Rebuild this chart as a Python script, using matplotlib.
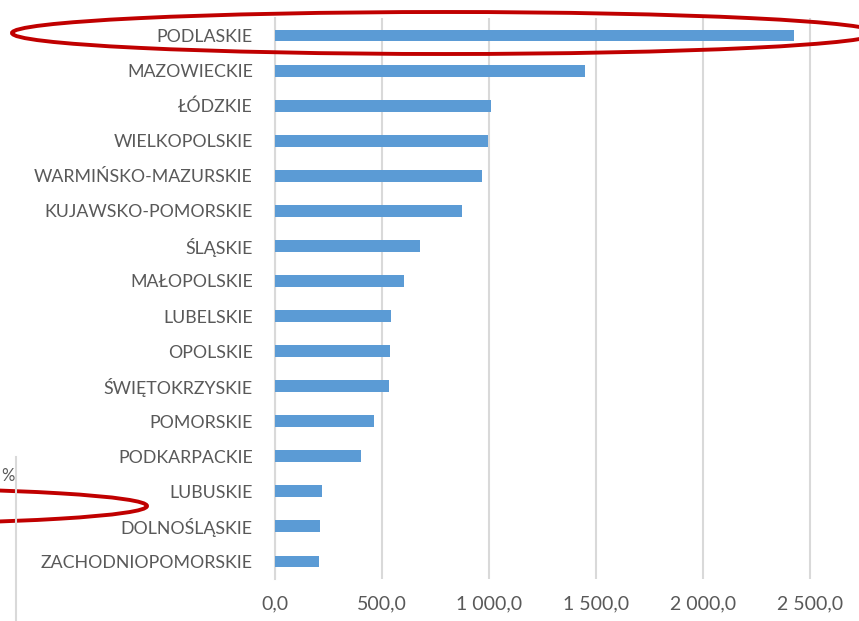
import matplotlib
matplotlib.use('Agg')
import matplotlib.pyplot as plt
from matplotlib.patches import Ellipse
from matplotlib.lines import Line2D

# voivodeships, top to bottom
regions = ['PODLASKIE', 'MAZOWIECKIE', 'ŁÓDZKIE', 'WIELKOPOLSKIE',
           'WARMIŃSKO-MAZURSKIE', 'KUJAWSKO-POMORSKIE', 'ŚLĄSKIE',
           'MAŁOPOLSKIE', 'LUBELSKIE', 'OPOLSKIE', 'ŚWIĘTOKRZYSKIE',
           'POMORSKIE', 'PODKARPACKIE', 'LUBUSKIE', 'DOLNOŚLĄSKIE',
           'ZACHODNIOPOMORSKIE']
values = [2425, 1447, 1008, 997, 966, 874, 676, 604, 544, 536, 534,
          463, 400, 218, 210, 206]
x_ticks = [0, 500, 1000, 1500, 2000, 2500]
x_labels = ['0,0', '500,0', '1 000,0', '1 500,0', '2 000,0', '2 500,0']

W, H = 859, 621
fig = plt.figure(figsize=(W / 100, H / 100), dpi=100)
plt.rcParams['font.family'] = ['Lato', 'DejaVu Sans']

ax = fig.add_axes([275 / W, 1 - 579 / H, (W - 275) / W, (579 - 18) / H])
ypos = list(range(len(regions)))
ax.barh(ypos, values, height=0.34, color='#5B9BD5', zorder=3)
ax.set_ylim(len(regions) - 0.5, -0.5)
ax.set_xlim(0, 2729)
ax.set_yticks(ypos)
ax.set_yticklabels(regions, fontsize=12.8, color='#595959')
ax.set_xticks(x_ticks)
ax.set_xticklabels(x_labels, fontsize=14, color='#595959')
ax.tick_params(axis='y', length=0, pad=16)
ax.tick_params(axis='x', length=0, pad=12)
ax.grid(axis='x', color='#D9D9D9', linewidth=1.5, zorder=0)
for s in ['top', 'right', 'bottom']:
    ax.spines[s].set_visible(False)
ax.spines['left'].set_color('#D9D9D9')
ax.spines['left'].set_linewidth(1.5)

# red highlight ellipses
e1 = Ellipse((445 / W, 1 - 33 / H), 866 / W, 42 / H, fill=False,
             edgecolor='#C00000', linewidth=2.8, transform=fig.transFigure)
fig.add_artist(e1)
e2 = Ellipse((-153 / W, 1 - 506 / H), 600 / W, 36 / H, fill=False,
             edgecolor='#C00000', linewidth=2.8, transform=fig.transFigure)
fig.add_artist(e2)

# fragment of neighbouring chart
fig.add_artist(Line2D([16 / W, 16 / W], [0, 1 - 457 / H], color='#D9D9D9',
                      linewidth=1.5, transform=fig.transFigure))
fig.text(1 / W, 1 - 476 / H, '%', fontsize=12, color='#595959',
         ha='left', va='center')

fig.savefig('out.png', dpi=100)
